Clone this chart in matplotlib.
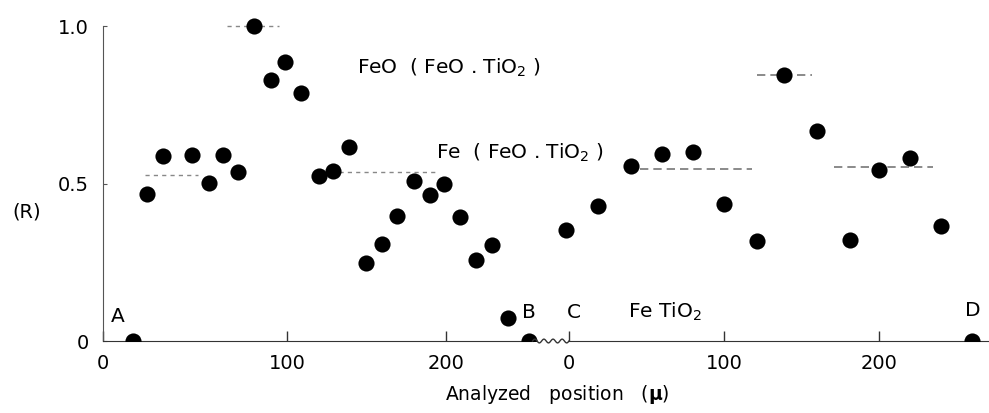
import numpy as np
import matplotlib.pyplot as plt

plt.rcParams['font.family'] = ['DejaVu Sans']
plt.rcParams['mathtext.fontset'] = 'dejavusans'

# first traverse (A -> B), position in microns, relative intensity R
seg1_pos = [3, 12, 22, 40, 51, 60, 69, 79, 90, 99, 109, 120, 129,
            139, 150, 160, 169, 180, 190, 199, 209, 219, 229, 239, 252]
seg1_r = [0.0, 0.467, 0.588, 0.591, 0.503, 0.589, 0.537, 1.0, 0.829,
          0.886, 0.788, 0.525, 0.540, 0.615, 0.249, 0.309, 0.397, 0.507,
          0.464, 0.498, 0.394, 0.257, 0.304, 0.074, 0.0]

# second traverse (C -> D)
seg2_pos = [-2, 19, 40, 60, 80, 100, 121, 139, 160, 181, 200, 220, 240, 260]
seg2_r = [0.352, 0.430, 0.557, 0.594, 0.600, 0.434, 0.318, 0.845, 0.666,
          0.320, 0.543, 0.582, 0.364, 0.0]

# mean levels (R, start, end)
seg1_levels = [(1.0, 62, 95), (0.527, 11, 44), (0.537, 133, 195)]
seg2_levels = [(0.546, 46, 118), (0.845, 121, 157), (0.553, 171, 235)]

x1_lim = (-15.7, 262.3)
x2_lim = (-15.5, 271)

fig = plt.figure(figsize=(9.89, 4.13), dpi=100)
ax1 = fig.add_axes([0.1041, 0.1743, 0.447, 0.8085])
ax2 = fig.add_axes([0.551, 0.1743, 0.449, 0.8085], sharey=ax1)

for ax in (ax1, ax2):
    ax.set_facecolor('none')
    ax.spines['top'].set_visible(False)
    ax.spines['right'].set_visible(False)
    ax.spines['bottom'].set_color('#333333')
    ax.tick_params(axis='x', direction='in', length=7, width=1,
                   pad=9, labelsize=14, color='#333333')
ax2.spines['left'].set_visible(False)
ax1.spines['left'].set_color('#555555')

ax1.set_xlim(*x1_lim)
ax2.set_xlim(*x2_lim)
ax1.set_ylim(0, 1.06)
ax1.spines['left'].set_bounds(0, 1.0)
ax1.spines['bottom'].set_bounds(x1_lim[0], 254.5)
ax2.spines['bottom'].set_bounds(0, x2_lim[1])

ax1.set_yticks([0, 0.5, 1.0], ['0', '0.5', '1.0'])
ax1.tick_params(axis='y', direction='in', length=3, pad=10, labelsize=14,
                color='#555555')
ax2.tick_params(axis='y', left=False, labelleft=False)

ax1.set_xticks([x1_lim[0], 100, 200], ['0', '100', '200'])
ax2.set_xticks([0, 100, 200], ['0', '100', '200'])

for lv, a, b in seg1_levels:
    ax1.plot([a, b], [lv, lv], color='#888888', lw=1, ls=(0, (3, 3)), zorder=2)
for lv, a, b in seg2_levels:
    ax2.plot([a, b], [lv, lv], color='#777777', lw=1.2, ls=(0, (5, 3)), zorder=2)

ax1.scatter(seg1_pos, seg1_r, s=135, c='black', zorder=3, linewidths=0)
ax2.scatter(seg2_pos, seg2_r, s=135, c='black', zorder=3, linewidths=0)

# wavy break between the two traverses
wx = np.linspace(-23.5, 0, 80)
ax2.plot(wx, 0.006 * np.sin(wx / 23.5 * 4 * 2 * np.pi), color='#333333',
         lw=1, clip_on=False)

# labels
fs = 14.5
ax1.text(144, 0.867, 'FeO  ( FeO . TiO$_2$ )', fontsize=fs, ha='left', va='center')
ax1.text(193.7, 0.597, 'Fe  ( FeO . TiO$_2$ )', fontsize=fs, ha='left', va='center')
ax1.text(-6.3, 0.079, 'A', fontsize=fs, ha='center', va='center')
ax1.text(252, 0.092, 'B', fontsize=fs, ha='center', va='center')
ax2.text(2.9, 0.092, 'C', fontsize=fs, ha='center', va='center')
ax2.text(38, 0.092, 'Fe TiO$_2$', fontsize=fs, ha='left', va='center')
ax2.text(260.6, 0.098, 'D', fontsize=fs, ha='center', va='center')

fig.text(27 / 989, 1 - 212 / 413, '(R)', fontsize=14, ha='center', va='center')
fig.text(557 / 989, 1 - 395 / 413, 'Analyzed   position   ($\\mathbf{\\mu}$)',
         fontsize=13.5, ha='center', va='center')

fig.savefig('out.png', dpi=100)
